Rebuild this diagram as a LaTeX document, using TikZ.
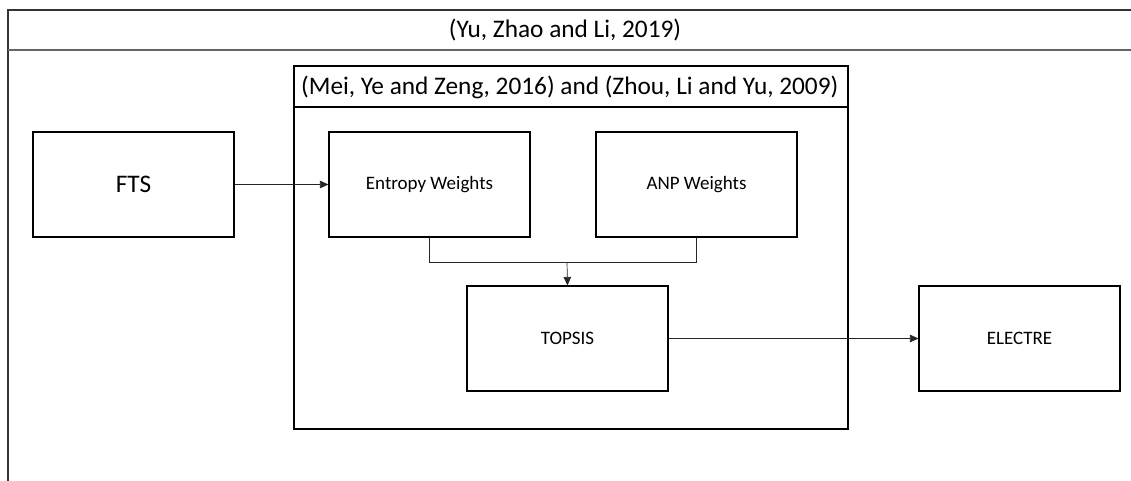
\documentclass[tikz,border=0pt]{standalone}
\usepackage{fontspec}
\setmainfont{Carlito}
\usetikzlibrary{arrows.meta}
\begin{document}
\begin{tikzpicture}[x=1pt,y=-1pt,
  box/.style={draw=black,line width=1.1pt,minimum width=201pt,minimum height=105pt,inner sep=0pt},
  big/.style={font=\fontsize{25.3}{30}\selectfont},
  small/.style={font=\fontsize{19}{23}\selectfont},
  conn/.style={draw=black!85,line width=0.7pt},
  arr/.style={conn,-{Triangle[length=8.5pt,width=7.5pt]}}]
\useasboundingbox (0,0) rectangle (1131,481);
% outer frame (cropped right and bottom)
\draw[line width=1.3pt,black!80] (1131,10) -- (8,10) -- (8,481);
\draw[line width=1.3pt,black!60] (8,50) -- (1131,50);
\node[big] (outerTitle) at (565,30) {(Yu, Zhao and Li, 2019)};
% inner frame
\draw[line width=1.1pt] (294,66) rectangle (848,429);
\draw[line width=1.1pt] (294,107) -- (848,107);
\node[big,anchor=west,inner sep=0pt] (innerTitle) at (301,87) {(Mei, Ye and Zeng, 2016) and (Zhou, Li and Yu, 2009)};
% boxes
\node[box,big] (fts) at (133.5,184.5) {FTS};
\node[box,small] (ent) at (429.5,184.5) {Entropy Weights};
\node[box,small] (anp) at (696.5,184.5) {ANP Weights};
\node[box,small] (top) at (567.5,338.5) {TOPSIS};
\node[box,small] (ele) at (1019.5,338.5) {ELECTRE};
% connectors
\coordinate (j) at (567,262);
\draw[arr] (fts.east) -- (ent.west);
\draw[conn] (ent.south) -- ++(0,25) -| (anp.south);
\draw[arr] (j) -- (top.north);
\draw[arr] (top.east) -- (ele.west);
\end{tikzpicture}
\end{document}
